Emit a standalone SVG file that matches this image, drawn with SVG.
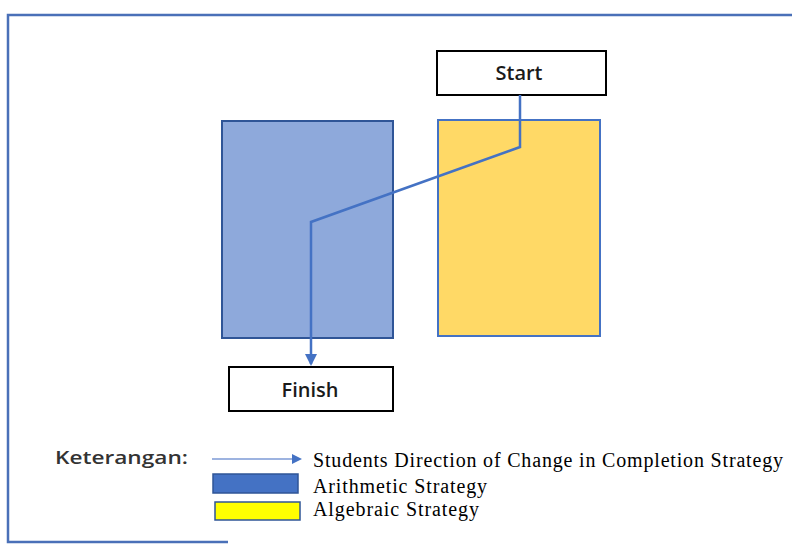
<svg xmlns="http://www.w3.org/2000/svg" width="792" height="544" viewBox="0 0 792 544">
<style>
.box{fill:#fff;stroke:#000;stroke-width:2}
.lbl{font-family:"Open Sans","Liberation Sans",sans-serif;font-size:20px;font-weight:600;fill:#1a1a1a;text-anchor:middle}
.leg{font-family:"Liberation Serif",serif;font-size:20px;fill:#000}
.conn{fill:none;stroke:#4472C4;stroke-width:2.5}
</style>
<defs>
<marker id="ah" markerWidth="12" markerHeight="12" refX="10" refY="6" orient="auto" markerUnits="userSpaceOnUse">
<path d="M0,0 L12,6 L0,12 z" fill="#4472C4"/>
</marker>
<marker id="ah2" markerWidth="10" markerHeight="10" refX="8" refY="5" orient="auto" markerUnits="userSpaceOnUse">
<path d="M0,0 L10,5 L0,10 z" fill="#4472C4"/>
</marker>
</defs>
<rect width="792" height="544" fill="#fff"/>
<path d="M792,15 H8 V542 H228" fill="none" stroke="#4a70b8" stroke-width="2.5"/>
<g id="arithmetic"><rect x="222" y="121" width="171" height="217" fill="#8EA9DB" stroke="#2F5597" stroke-width="2"/></g>
<g id="algebraic"><rect x="438" y="120" width="162" height="216" fill="#FFD966" stroke="#4472C4" stroke-width="2"/></g>
<g id="start"><rect class="box" x="437" y="51" width="169" height="44"/><text class="lbl" x="519" y="80">Start</text></g>
<g id="finish"><rect class="box" x="229" y="367" width="164" height="44"/><text class="lbl" x="310" y="397">Finish</text></g>
<g id="connectors">
<polyline class="conn" points="520,95 520,147 311,222 311,364" marker-end="url(#ah)"/>
</g>
<g id="legend">
<text x="55" y="464" font-family="'Open Sans','Liberation Sans',sans-serif" font-size="18" font-weight="600" fill="#333" textLength="133" lengthAdjust="spacingAndGlyphs">Keterangan:</text>
<line x1="212" y1="459" x2="300" y2="459" stroke="#9DB3E0" stroke-width="2" marker-end="url(#ah2)"/>
<text class="leg" x="313" y="467" textLength="470" lengthAdjust="spacing">Students Direction of Change in Completion Strategy</text>
<rect x="213" y="474" width="85" height="19" fill="#4472C4" stroke="#2F5597" stroke-width="1.5"/>
<text class="leg" x="313" y="493" textLength="174" lengthAdjust="spacing">Arithmetic Strategy</text>
<rect x="215" y="502" width="85" height="18" fill="#FFFF00" stroke="#2F5597" stroke-width="1.5"/>
<text class="leg" x="313" y="516" textLength="166" lengthAdjust="spacing">Algebraic Strategy</text>
</g>
</svg>
